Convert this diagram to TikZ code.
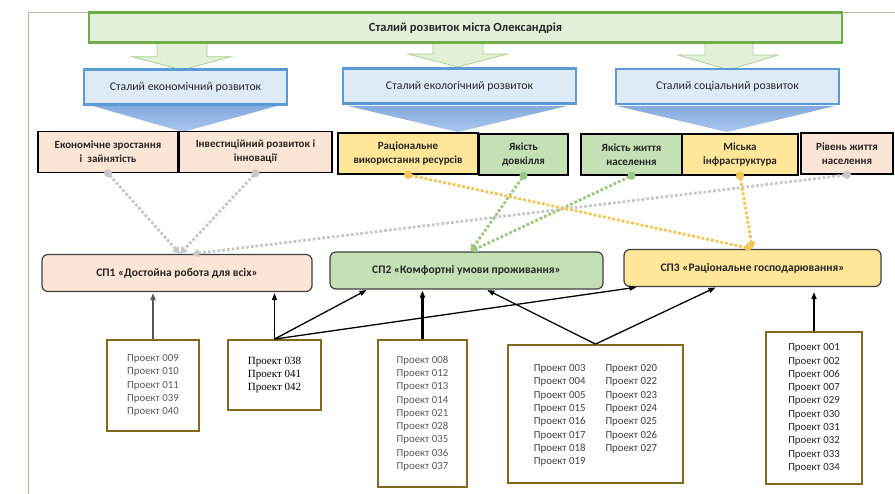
\documentclass[tikz,border=0pt]{standalone}
\usepackage{fontspec}
\setmainfont{Carlito}
\newfontfamily\romanfont{Liberation Serif}
\usetikzlibrary{arrows.meta}
\definecolor{mossgreen}{RGB}{112, 173, 71}
\definecolor{palegreen}{RGB}{226, 239, 217}
\definecolor{wedgegreen}{RGB}{169, 209, 142}
\definecolor{skyblue}{RGB}{91, 155, 213}
\definecolor{paleblue}{RGB}{222, 235, 247}
\definecolor{wedgetop}{RGB}{132, 170, 222}
\definecolor{wedgebottom}{RGB}{170, 198, 236}
\definecolor{peach}{RGB}{251, 229, 214}
\definecolor{butter}{RGB}{255, 230, 153}
\definecolor{sage}{RGB}{197, 224, 180}
\definecolor{olivebrown}{RGB}{132, 104, 30}
\definecolor{framegray}{RGB}{185, 185, 170}
\definecolor{dotgray}{RGB}{200, 200, 200}
\definecolor{dotgreen}{RGB}{156, 200, 130}
\definecolor{dotyellow}{RGB}{245, 196, 80}
\definecolor{inkgray}{RGB}{89, 89, 89}
\definecolor{inkdark}{RGB}{38, 38, 38}

\tikzset{
  cityblock/.style={draw=mossgreen, fill=palegreen, line width=2.4pt, inner sep=0pt,
    minimum width=753pt, minimum height=30pt, text=inkdark,
    font=\fontsize{12.5}{14}\selectfont\bfseries},
  pillar/.style={draw=skyblue, fill=paleblue, line width=2.4pt, inner sep=0pt,
    minimum height=35pt, text=inkdark, font=\fontsize{11.8}{13}\selectfont},
  greenwedge/.style={draw=wedgegreen, fill=palegreen, line width=0.8pt},
  bluewedge/.style={top color=wedgetop, bottom color=wedgebottom},
  factor/.style={draw=black, fill=#1, line width=1.6pt, inner sep=0pt, align=center,
    minimum height=41pt, text=inkdark, font=\fontsize{11}{14}\selectfont\bfseries},
  program/.style={draw=black!75, fill=#1, line width=1.2pt, rounded corners=6pt,
    inner sep=0pt, minimum height=37pt, text=inkdark,
    font=\fontsize{11.5}{13}\selectfont\bfseries},
  project/.style={draw=olivebrown, fill=white, line width=1.8pt, inner sep=0pt,
    align=center, font=\fontsize{10.8}{13.3}\selectfont},
  dotlink/.style={draw=#1, line width=2.8pt, dash pattern=on 2.8pt off 2pt,
    {Circle[length=8pt,fill=#1]}-{Triangle[length=7pt,width=8pt,fill=#1]},
    shorten <=-4pt},
  projlink/.style={draw=black, line width=1.3pt, -{Triangle[length=7pt,width=5pt]},
    shorten >=1pt}
}

\begin{document}
\begin{tikzpicture}[x=1pt,y=-1pt]
  \useasboundingbox (0,0) rectangle (895,494);
  \draw[framegray, line width=0.8pt] (28,494) -- (28,12.7) -- (895,12.7);

  \filldraw[greenwedge] (157,40) -- (157,56.7) -- (132,56.7) -- (182,70) -- (231,56.7) -- (207,56.7) -- (207,40) -- cycle;
  \filldraw[greenwedge] (433,40) -- (433,54.0) -- (408,54.0) -- (458,67) -- (507,54.0) -- (483,54.0) -- (483,40) -- cycle;
  \filldraw[greenwedge] (705,40) -- (705,55.0) -- (678,55.0) -- (729,70) -- (778,55.0) -- (753,55.0) -- (753,40) -- cycle;

  \node[cityblock] (city) at (465.5,27.7) {Сталий розвиток міста Олександрія};

  \shade[bluewedge] ( 93,106) -- (277,106) -- (183,132) -- cycle;
  \shade[bluewedge] (348,106) -- (567,106) -- (458,132) -- cycle;
  \shade[bluewedge] (617,106) -- (835,106) -- (727,132) -- cycle;

  \node[pillar, minimum width=203pt] (economy) at (185.5,87.0) {Сталий економічний розвиток};
  \node[pillar, minimum width=233pt] (ecology) at (459.5,86.0) {Сталий екологічний розвиток};
  \node[pillar, minimum width=223pt] (society) at (727.5,86.5) {Сталий соціальний розвиток};

  \node[factor=peach,  minimum width=140pt] (growth)  at (108.0,152.0) {Економічне зростання\\і\ \ зайнятість};
  \node[factor=peach,  minimum width=153pt] (invest)  at (255.5,152.0) {Інвестиційний розвиток і\\інновації};
  \node[factor=butter, minimum width=140pt] (resource) at (408.0,153.5) {Раціональне\\використання ресурсів};
  \node[factor=sage,   minimum width=89pt]  (environ) at (523.5,154.5) {Якість\\довкілля};
  \node[factor=sage,   minimum width=101pt] (lifequal) at (631.5,154.5) {Якість життя\\населення};
  \node[factor=butter, minimum width=116pt] (infra)   at (740.0,154.5) {Міська\\інфраструктура};
  \node[factor=peach,  minimum width=92pt]  (living)  at (847.0,153.5) {Рівень життя\\населення};

  \node[program=peach,  minimum width=270pt] (work)    at (177.0,273.0) {СП1 «Достойна робота для всіх»};
  \node[program=sage,   minimum width=273pt] (housing) at (466.5,270.5) {СП2 «Комфортні умови проживання»};
  \node[program=butter, minimum width=257pt] (economy3) at (752.5,268.0) {СП3 «Раціональне господарювання»};

  \draw[dotlink=dotgray]   (growth.south)   -- ([xshift=3pt]work.north);
  \draw[dotlink=dotgray]   (invest.south)   -- ([xshift=3pt]work.north);
  \draw[dotlink=dotgray]   (living.south)   -- ([xshift=15pt]work.north);
  \draw[dotlink=dotgreen]  (environ.south)  -- ([xshift=4pt]housing.north);
  \draw[dotlink=dotgreen]  (lifequal.south) -- ([xshift=4pt]housing.north);
  \draw[dotlink=dotyellow] (resource.south) -- (economy3.north);
  \draw[dotlink=dotyellow] (infra.south)    -- (economy3.north);

  \node[project, minimum width=92pt, minimum height=91pt, text=inkgray] (groupA) at (153.0,385.5)
    {Проект 009\\Проект 010\\Проект 011\\Проект 039\\Проект 040};
  \node[project, minimum width=93pt, minimum height=70pt, font=\romanfont\fontsize{11}{13}\selectfont] (groupB) at (274.5,375.0)
    {Проект 038\\Проект 041\\Проект 042};
  \node[project, minimum width=89pt, minimum height=147pt, text=inkgray] (groupC) at (422.5,413.5)
    {Проект 008\\Проект 012\\Проект 013\\Проект 014\\Проект 021\\Проект 028\\Проект 035\\Проект 036\\Проект 037};
  \node[project, minimum width=175pt, minimum height=138pt, text=black!75] (groupD) at (595.5,414.0)
    {\rule{0pt}{8pt}\\[-6pt]\begin{tabular}{@{}l@{\hspace{20pt}}l@{}}
       Проект 003 & Проект 020\\ Проект 004 & Проект 022\\ Проект 005 & Проект 023\\
       Проект 015 & Проект 024\\ Проект 016 & Проект 025\\ Проект 017 & Проект 026\\
       Проект 018 & Проект 027\\ Проект 019 & \\
     \end{tabular}};
  \node[project, minimum width=96pt, minimum height=152pt, text=inkdark] (groupE) at (814.0,408.0)
    {Проект 001\\Проект 002\\Проект 006\\Проект 007\\Проект 029\\Проект 030\\Проект 031\\Проект 032\\Проект 033\\Проект 034};

  \draw[projlink, draw=inkgray, line width=1.8pt] (groupA.north) -- (groupA.north |- work.south);
  \draw[projlink] (groupB.north) -- (groupB.north |- work.south);
  \draw[projlink] (groupB.north) -- ([xshift=38pt]housing.south west);
  \draw[projlink] (groupB.north) -- ([xshift=14pt]economy3.south west);
  \draw[projlink, line width=2.6pt] (groupC.north) -- (groupC.north |- housing.south);
  \draw[projlink] (groupD.north) -- ([xshift=157pt]housing.south west);
  \draw[projlink] (groupD.north) -- ([xshift=93pt]economy3.south west);
  \draw[projlink, line width=1.6pt, shorten >=5pt] (groupE.north) -- (groupE.north |- economy3.south);
\end{tikzpicture}
\end{document}
